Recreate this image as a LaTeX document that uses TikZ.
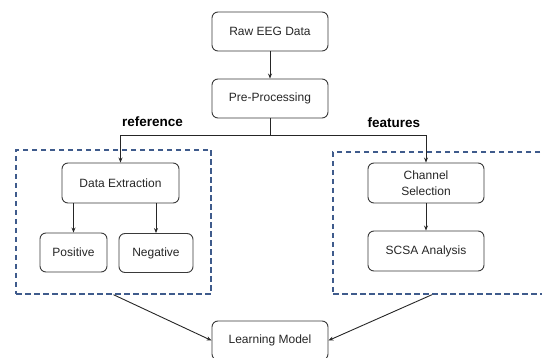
\documentclass[tikz,border=0pt]{standalone}
\usepackage{fontspec}
\setmainfont{Liberation Sans}
\usetikzlibrary{arrows.meta}
\definecolor{boxline}{HTML}{3A3A3A}
\definecolor{dashblue}{HTML}{3F5B8C}
\tikzset{
    stage/.style={draw=boxline, line width=0.9pt, rounded corners=6pt, minimum width=116pt, minimum height=39pt, inner sep=2pt, align=center, font=\fontsize{12}{16}\selectfont, text=black!85},
    leaf/.style={stage, minimum width=#1},
    group/.style={draw=dashblue, line width=1.4pt, dash pattern=on 5.5pt off 3.5pt, minimum width=195pt, minimum height=144pt, inner sep=0pt},
    arr/.style={draw=black!85, line width=0.9pt, -{Stealth[length=5pt, width=4pt]}},
    tag/.style={font=\fontsize{13.5}{16}\selectfont\bfseries}
}
\begin{document}
\begin{tikzpicture}[x=1pt, y=-1pt]
        %整体画布, 按像素坐标摆放
        \clip (0, 0) rectangle (542, 358);
        \node[stage] (raw) at (270, 31.5) {Raw EEG Data};
        \node[stage] (pre) at (270, 98.5) {Pre-Processing};
        \node[group] (lbox) at (113.5, 222) {};
        \node[group, minimum width=217pt, minimum height=142pt] (rbox) at (441.5, 223) {};
        \node[stage, minimum width=117pt, minimum height=40pt] (dext) at (120.5, 183) {Data Extraction};
        \node[leaf=67pt] (pos) at (73.5, 252.5) {Positive};
        \node[leaf=74pt] (neg) at (156, 253) {Negative};
        \node[stage, minimum height=40pt] (chan) at (426, 183) {Channel\\Selection};
        \node[stage, minimum height=40pt] (scsa) at (426, 251) {SCSA Analysis};
        \node[stage] (learn) at (270, 340.5) {Learning Model};
        \node[tag] at (152.5, 122) {reference};
        \node[tag] at (394, 123) {features};
        \draw[arr] (raw) -- (pre);
        \draw[arr] (pre.south) -- ++(0, 17) -| (dext.north);
        \draw[arr] (pre.south) -- ++(0, 17) -| (chan.north);
        \draw[arr] (pos.north |- dext.south) -- (pos.north);
        \draw[arr] (neg.north |- dext.south) -- (neg.north);
        \draw[arr] (chan) -- (scsa);
        \draw[arr] (lbox.south) -- (learn.west);
        \draw[arr] ([xshift=-9.5pt]rbox.south) -- (learn.east);
    \end{tikzpicture}
\end{document}
